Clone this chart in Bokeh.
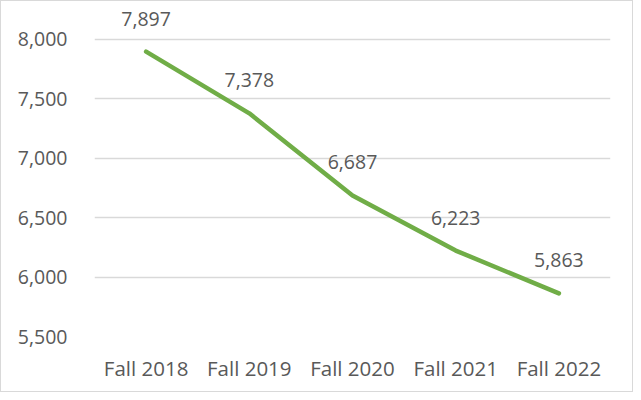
from bokeh.plotting import figure
from bokeh.models import FactorRange, Range1d, FixedTicker, NumeralTickFormatter, ColumnDataSource
from bokeh.core.properties import value
from bokeh.embed import file_html
from bokeh.resources import INLINE

categories = ["Fall 2018", "Fall 2019", "Fall 2020", "Fall 2021", "Fall 2022"]
enrollment = [7897, 7378, 6687, 6223, 5863]
y_ticks = [5500, 6000, 6500, 7000, 7500, 8000]

labels = [f"{v:,}" for v in enrollment]
src = ColumnDataSource(dict(x=categories, y=enrollment, t=labels))

FONT = "Open Sans"
TXT = "#595959"

p = figure(width=633, height=392, output_backend="svg", toolbar_location=None,
           x_range=FactorRange(*categories, range_padding=0),
           y_range=Range1d(5500, 8277))
p.min_border_left = 93
p.min_border_right = 24
p.min_border_top = 5
p.min_border_bottom = 57
p.outline_line_color = None
p.background_fill_color = "white"
p.border_fill_color = "white"
p.styles = {"border": "1px solid #d9d9d9", "box-sizing": "border-box"}

p.yaxis.ticker = FixedTicker(ticks=y_ticks)
p.yaxis.formatter = NumeralTickFormatter(format="0,0")
for ax in (p.xaxis, p.yaxis):
    ax.axis_line_color = None
    ax.major_tick_line_color = None
    ax.minor_tick_line_color = None
    ax.major_label_text_font = FONT
    ax.major_label_text_color = TXT
p.yaxis.major_label_text_font_size = "19.5px"
p.xaxis.major_label_text_font_size = "20.5px"
p.yaxis.major_label_standoff = 21
p.xaxis.major_label_standoff = 11

p.xgrid.grid_line_color = None
p.ygrid.grid_line_color = "#d9d9d9"
p.ygrid.grid_line_width = 1.5

p.line("x", "y", source=src, line_width=4.5, line_color="#70AD47", line_cap="round", line_join="round")
p.text("x", "y", text="t", source=src, text_align="center", text_baseline="middle",
       y_offset=-33, text_font=value(FONT), text_font_size="19.5px", text_color=TXT)

open("out.html", "w").write(file_html(p, INLINE))
